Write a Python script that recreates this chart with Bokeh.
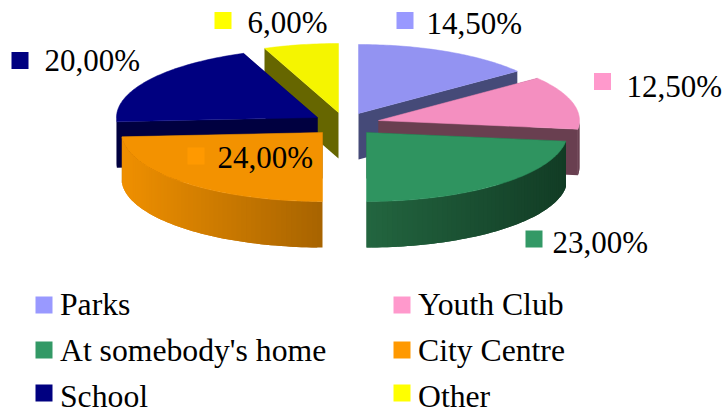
import math
from bokeh.plotting import figure
from bokeh.embed import file_html
from bokeh.resources import INLINE
from bokeh.core.properties import value

names = ["Parks", "Youth Club", "At somebody's home", "City Centre", "School", "Other"]
values = [14.5, 12.5, 23.0, 24.0, 20.0, 6.0]
labels = ["14,50%", "12,50%", "23,00%", "24,00%", "20,00%", "6,00%"]
colors = ["#9393f2", "#f48fc0", "#2f9460", "#f39200", "#000080", "#f5f500"]
key_colors = ["#9999ff", "#ff99cc", "#339966", "#ff9900", "#000080", "#ffff00"]
cut_colors = ["#454a78", "#693f50", "#133d26", "#6a4000", "#000040", "#666600"]
side_left = ["#454a78", "#693f50", "#236640", "#f09000", "#000040", "#666600"]
side_right = ["#454a78", "#693f50", "#123c25", "#a86400", "#000040", "#666600"]
apex_x = [358, 378, 366, 322, 317, 338]
apex_y = [113, 120, 132, 132, 117, 112]
draw_order = [0, 5, 4, 1, 2, 3]
label_pos = [(426, 33), (626, 96), (552, 252), (217, 167), (44, 70), (247, 32)]
marker_pos = [(404.5, 20), (602, 81), (533.5, 238.5), (195.5, 155.5), (19.5, 60), (222.5, 20)]
legend_pos = [(43.5, 304.5), (401.5, 304.5), (43.5, 349.5), (401.5, 349.5), (43.5, 392.5), (401.5, 392.5)]
legend_base = [314, 314, 360, 360, 406, 406]

RX, RY, DEPTH = 201, 69, 46
BASE_SHIFT = 10.5  # distance from a text's baseline to its "middle" anchor

p = figure(width=725, height=412, x_range=(0, 725), y_range=(412, 0),
           output_backend="svg", toolbar_location=None, min_border=0)
p.axis.visible = False
p.grid.visible = False
p.outline_line_color = None
p.background_fill_color = "white"


def pt(cx, cy, deg):
    a = math.radians(deg)
    return cx + RX * math.sin(a), cy - RY * math.cos(a)


def mix(c1, c2, t):
    a = [int(c1[i:i + 2], 16) for i in (1, 3, 5)]
    b = [int(c2[i:i + 2], 16) for i in (1, 3, 5)]
    return "#%02x%02x%02x" % tuple(round(u + (v - u) * t) for u, v in zip(a, b))


starts, acc = [], 0.0
for v in values:
    starts.append(acc)
    acc += v

for i in draw_order:
    a0 = starts[i] * 3.6
    a1 = (starts[i] + values[i]) * 3.6
    cx, cy = apex_x[i], apex_y[i]
    # radial cut faces
    for edge in (a0, a1):
        ex, ey = pt(cx, cy, edge)
        p.patch([cx, ex, ex, cx], [cy, ey, ey + DEPTH, cy + DEPTH],
                fill_color=cut_colors[i], line_color=None)
    # outer wall, front-facing part; each strip overlaps the next to hide seams
    lo, hi = max(a0, 90), min(a1, 270)
    if hi > lo:
        n = int((hi - lo) / 1.5) + 1
        lx = pt(cx, cy, hi)[0]
        rx = pt(cx, cy, lo)[0]
        for k in range(n):
            d0 = lo + (hi - lo) * k / n
            d1 = min(lo + (hi - lo) * (k + 2) / n, hi)
            xa, ya = pt(cx, cy, d0)
            xm, ym = pt(cx, cy, (d0 + d1) / 2)
            xb, yb = pt(cx, cy, d1)
            # position across the slice, 0 at its left end and 1 at its right end
            t = (xa - lx) / (rx - lx) if rx > lx else 0
            c = mix(side_left[i], side_right[i], min(1, max(0, t)))
            p.patch([xa, xm, xb, xb, xm, xa], [ya, ym, yb, yb + DEPTH, ym + DEPTH, ya + DEPTH],
                    fill_color=c, line_color=None)
    # top face
    steps = max(int(a1 - a0), 2)
    xs, ys = [cx], [cy]
    for k in range(steps + 1):
        x, y = pt(cx, cy, a0 + (a1 - a0) * k / steps)
        xs.append(x)
        ys.append(y)
    p.patch(xs, ys, fill_color=colors[i], line_color=colors[i], line_width=0.5)

SERIF = value("Liberation Serif")
for i in range(6):
    mx, my = marker_pos[i]
    p.rect([mx], [my], width=17, height=17, fill_color=key_colors[i], line_color=None)
    lx, ly = label_pos[i]
    p.text([lx], [ly - BASE_SHIFT], text=[labels[i]], text_font=SERIF, text_font_size="31px",
           text_color="#000000", text_baseline="middle", text_align="left")
    gx, gy = legend_pos[i]
    p.rect([gx], [gy], width=17, height=17, fill_color=key_colors[i], line_color=None)
    p.text([gx + 16], [legend_base[i] - BASE_SHIFT], text=[names[i]], text_font=SERIF,
           text_font_size="31.7px", text_color="#000000", text_baseline="middle", text_align="left")

open("out.html", "w").write(file_html(p, INLINE))
